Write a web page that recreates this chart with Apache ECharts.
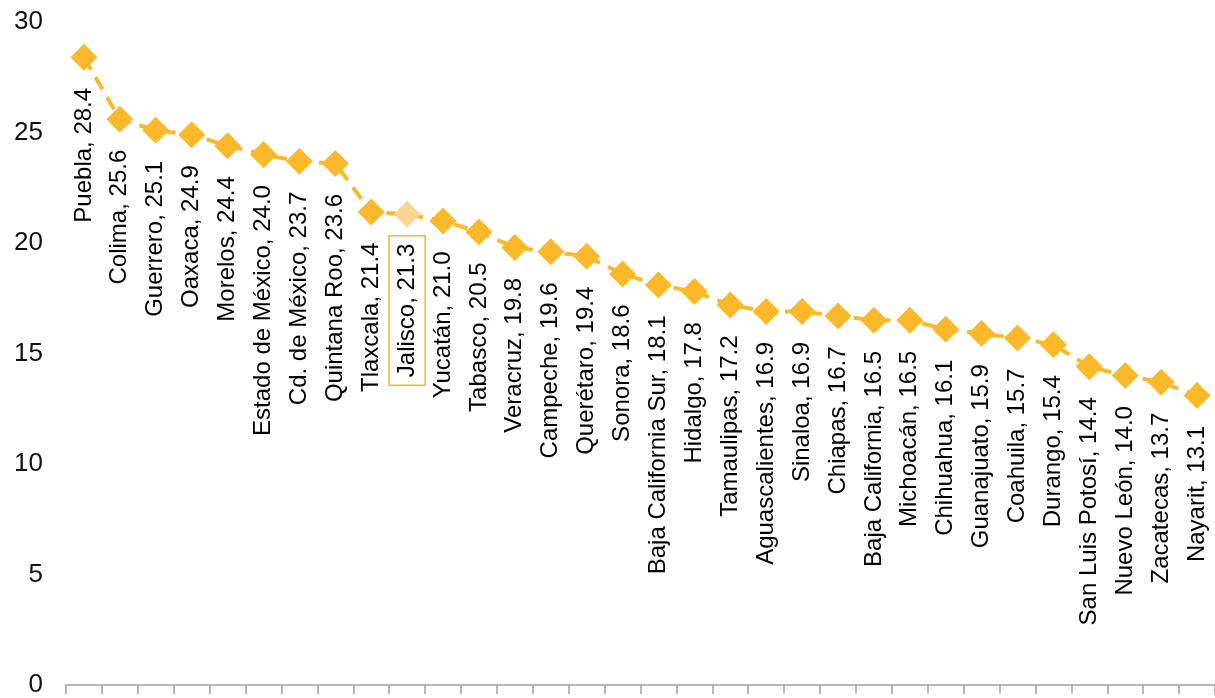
<!DOCTYPE html>
<html>
<head>
<meta charset="utf-8">
<script src="https://cdn.jsdelivr.net/npm/echarts@6/dist/echarts.min.js"></script>
<style>
html,body{margin:0;padding:0;background:#fff;}
#chart{width:1215px;height:698px;}
</style>
</head>
<body>
<div id="chart"></div>
<script>
var states = ['Puebla','Colima','Guerrero','Oaxaca','Morelos','Estado de México','Cd. de México','Quintana Roo','Tlaxcala','Jalisco','Yucatán','Tabasco','Veracruz','Campeche','Querétaro','Sonora','Baja California Sur','Hidalgo','Tamaulipas','Aguascalientes','Sinaloa','Chiapas','Baja California','Michoacán','Chihuahua','Guanajuato','Coahuila','Durango','San Luis Potosí','Nuevo León','Zacatecas','Nayarit'];
var values = [28.4,25.6,25.1,24.9,24.4,24.0,23.7,23.6,21.4,21.3,21.0,20.5,19.8,19.6,19.4,18.6,18.1,17.8,17.2,16.9,16.9,16.7,16.5,16.5,16.1,15.9,15.7,15.4,14.4,14.0,13.7,13.1];
var highlight = 'Jalisco';
var yTicks = [0,5,10,15,20,25,30];

var FONT = '"Liberation Sans", Arial, sans-serif';
var seriesData = states.map(function(s, i){
  var item = {name: s, value: values[i]};
  if (s === highlight) {
    item.itemStyle = {color: '#F9D493'};
    item.label = {
      borderColor: '#F5B62A',
      borderWidth: 1.5,
      padding: [7, 8, 5, 8],
      distance: 8
    };
  }
  return item;
});

var chart = echarts.init(document.getElementById('chart'));
chart.setOption({
  animation: false,
  backgroundColor: '#fff',
  grid: {left: 66, top: 22, width: 1152, bottom: 8, containLabel: false},
  xAxis: {
    type: 'category',
    data: states,
    boundaryGap: true,
    axisLine: {show: true, lineStyle: {color: '#a0a0a0', width: 1.5}},
    axisTick: {show: true, interval: 0, length: 9, alignWithLabel: false, lineStyle: {color: '#a0a0a0', width: 1.5}},
    axisLabel: {show: false, interval: 0},
    splitLine: {show: false}
  },
  yAxis: {
    type: 'value',
    min: yTicks[0],
    max: yTicks[yTicks.length - 1],
    interval: 5,
    axisLine: {show: false},
    axisTick: {show: false},
    splitLine: {show: false},
    axisLabel: {
      margin: 23,
      fontSize: 26,
      color: '#111',
      fontFamily: FONT
    }
  },
  series: [{
    type: 'line',
    data: seriesData,
    showAllSymbol: true,
    symbol: 'path://M0,-1L1,0L0,1L-1,0Z',
    symbolSize: [27, 27],
    lineStyle: {color: '#FBB829', width: 4, type: [14, 9]},
    itemStyle: {color: '#FBB829'},
    label: {
      show: true,
      position: 'bottom',
      distance: 17,
      rotate: 90,
      align: 'right',
      verticalAlign: 'middle',
      fontSize: 24,
      color: '#000',
      fontFamily: FONT,
      formatter: function(p){ return p.name + ', ' + p.value.toFixed(1); }
    },
    z: 2
  }]
});
</script>
</body>
</html>
